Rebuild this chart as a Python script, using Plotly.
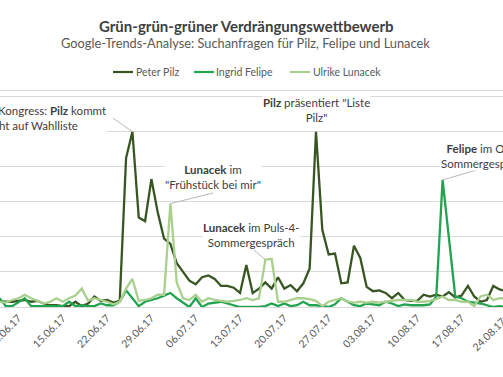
import pandas as pd
import plotly.graph_objects as go

start_date = "2017-06-05"
end_date = "2017-08-24"
dates = pd.date_range(start_date, end_date, freq="D")

pilz = [3, 3, 3, 3.5, 4, 3, 3.5, 2, 1, 1, 0.5, 0.5, 3, 0.5, 2, 6, 3.5, 4, 2.5, 3.5,
        85, 100, 51, 49, 73, 54, 39, 36, 25, 20, 15, 13, 17, 18, 16, 12, 12, 11, 8, 24,
        8, 10.5, 14, 10.5, 17, 10.5, 12.5, 9, 13.5, 22, 100, 44, 30, 30.5, 13.5, 14, 35, 28, 11.5, 9,
        9.5, 8, 5, 8, 4, 3.5, 3.5, 7, 6, 7, 6, 8.5, 5.5, 6.5, 12, 6, 3, 4, 12, 10, 9]
felipe = [5, 0.5, 0.5, 3, 5, 0.5, 0.5, 0.5, 0.5, 0.5, 0.5, 3, 0.5, 1, 0.5, 0.5, 2, 1, 1, 3,
          9.5, 5, 0.5, 3, 4, 5, 6.5, 8, 5, 2.5, 0, 5, 0, 2, 2.5, 3, 2, 1, 0, 0,
          0, 0, 0.5, 2, 0.5, 2, 0.5, 1, 3, 1, 1, 0.5, 0, 1.5, 5, 3, 1, 0.5, 2, 1.5,
          1, 3, 2, 0.5, 1.5, 1, 1, 1, 1.5, 6, 72.5, 38, 6, 5, 3, 2.5, 2, 1, 0, 0.5, 0]
lunacek = [3, 2.5, 4, 5, 7, 5, 3.5, 2, 3, 5, 3, 5, 6.5, 10.5, 3.5, 5, 4, 3, 1.5, 3,
           10.5, 16, 3.5, 4, 5, 7, 7, 59, 14, 5, 4, 7, 3, 5, 4, 3.5, 3, 3.5, 4, 5,
           4, 5, 27, 27.5, 3, 3, 4, 5, 5, 4.5, 3.5, 0.5, 3, 4, 5, 3, 2.5, 3, 2.5, 3,
           2.5, 3, 3.5, 4, 4, 4, 3, 3, 3.5, 4.5, 6, 4, 4, 3, 3, 0.5, 6, 7, 4, 5, 5]

series_names = ["Peter Pilz", "Ingrid Felipe", "Ulrike Lunacek"]
series_colors = ["#375623", "#22A350", "#A9D08E"]

title = "Grün-grün-grüner Verdrängungswettbewerb"
subtitle = "Google-Trends-Analyse: Suchanfragen für Pilz, Felipe und Lunacek"

FONT = "Lato"
W, H = 503, 377
T, B = 91, 70
PH = H - T - B

fig = go.Figure()
for name, vals, col in zip(series_names, [pilz, felipe, lunacek], series_colors):
    fig.add_trace(go.Scatter(x=dates, y=vals, mode="lines", name=name, showlegend=False,
                             line=dict(color=col, width=2.3), hoverinfo="skip"))

def py(p):
    return (H - B - p) / PH

def px(p):
    return p / W

notes = [
    ("Grünen-Kongress: <b>Pilz</b> kommt<br>nicht auf Wahlliste", 107, 118.5, "right"),
    ("<b>Lunacek</b> im<br>\"Frühstück bei mir\"", 213, 177, "center"),
    ("<b>Lunacek</b> im Puls-4-<br>Sommergespräch", 252, 234.5, "center"),
    ("<b>Pilz</b> präsentiert \"Liste<br>Pilz\"", 316, 110, "center"),
    ("<b>Felipe</b> im ORF-<br>Sommergespräch", 484, 155.5, "center"),
]
annotations = []
for txt, x, y, xa in notes:
    annotations.append(dict(text=txt, x=px(x), y=py(y), xref="paper", yref="paper",
                             xanchor=xa, yanchor="middle", showarrow=False, align="center",
                             bgcolor="white", borderpad=0,
                             font=dict(family=FONT, size=11.5, color="#404040")))

annotations.append(dict(text="<b>" + title + "</b>", x=px(246), y=py(25.5), xref="paper", yref="paper",
                        showarrow=False, xanchor="center", yanchor="middle",
                        font=dict(family=FONT, size=15, color="#404040")))
annotations.append(dict(text=subtitle, x=px(245), y=py(43), xref="paper", yref="paper",
                        showarrow=False, xanchor="center", yanchor="middle",
                        font=dict(family=FONT, size=12.8, color="#595959")))
annotations.append(dict(text="24.08.17", x=px(489), y=py(334), xref="paper", yref="paper",
                        showarrow=False, xanchor="center", yanchor="middle", textangle=-45,
                        font=dict(family=FONT, size=10.5, color="#595959")))

# custom legend: line start px, text start px
legend_pos = [(113, 135), (194, 215), (290, 312)]
shapes = []
for name, col, (lx, tx) in zip(series_names, series_colors, legend_pos):
    shapes.append(dict(type="line", xref="paper", yref="paper", x0=px(lx), x1=px(lx + 20),
                       y0=py(72), y1=py(72), line=dict(color=col, width=2.2)))
    annotations.append(dict(text=name, x=px(tx), y=py(72), xref="paper", yref="paper",
                            showarrow=False, xanchor="left", yanchor="middle", borderpad=0,
                            font=dict(family=FONT, size=10.5, color="#595959")))

# leader lines: (date, value, dx px, dy px upward)
leaders = [("2017-06-26", 100, -19.4, 13.7),
           ("2017-07-02", 59, 42.6, 10.6),
           ("2017-07-17", 27, -11.4, 9.7),
           ("2017-08-14", 72.5, 34.3, 10)]
for d, v, dx, dy in leaders:
    shapes.append(dict(type="line", xref="x", yref="y", xsizemode="pixel", ysizemode="pixel",
                       xanchor=d, yanchor=v, x0=0, y0=0, x1=dx, y1=dy,
                       line=dict(color="#A6A6A6", width=0.8)))

fig.update_layout(
    width=W, height=H,
    margin=dict(l=0, r=0, t=T, b=B, pad=0),
    paper_bgcolor="white", plot_bgcolor="white",
    font=dict(family=FONT, color="#595959"),
    showlegend=False,
    hovermode=False,
    annotations=annotations,
    shapes=shapes,
    xaxis=dict(type="date", range=["2017-06-05 02:00", "2017-08-23 13:00"],
               tick0="2017-06-08", dtick=7 * 24 * 3600 * 1000, tickformat="%d.%m.%y",
               tickangle=-45, showgrid=False, zeroline=False, showline=True, mirror=True,
               linecolor="#D9D9D9", linewidth=1, ticks="", automargin=False,
               ticklabeloverflow="allow",
               tickfont=dict(family=FONT, size=10.5, color="#595959")),
    yaxis=dict(range=[0, PH / 1.7525], dtick=20, showgrid=True, gridcolor="#D9D9D9",
               gridwidth=1, zeroline=False, showticklabels=False, ticks="", automargin=False),
)

fig.write_html("out.html", config={"displayModeBar": False, "staticPlot": True},
               post_script="document.body.style.margin='0px';")
